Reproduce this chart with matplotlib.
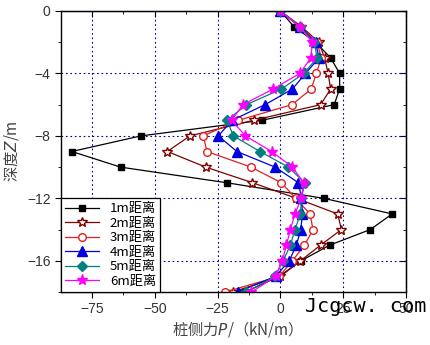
from matplotlib import pyplot as plt
import numpy as np

plt.rcParams['font.family'] = ['Liberation Sans', 'Noto Sans CJK SC', 'DejaVu Sans']

# depth (m)
depth = [0, -1, -2, -3, -4, -5, -6, -7, -8, -9, -10, -11, -12, -13, -14, -15, -16, -17, -18]

# pile side force P (kN/m) for each distance
P_1m = [0, 5.4, 14, 20, 23.6, 23.6, 21.4, -7.3, -55.5, -83, -63.6, -21.4, 17.3, 44.5, 35.8, 19.6, 8.2, -0.5, -14]
P_2m = [0, 8.4, 15.3, 17.6, 19, 20, 16, -10.6, -36, -45, -29.7, -11.1, 6.4, 22.8, 24.3, 16, 8, 0, -19]
P_3m = [0, 7.7, 14.6, 16.3, 14.3, 12.3, 4.6, -16.7, -30.7, -29.2, -11.7, 0.4, 6.1, 11.8, 13, 9.6, 4.8, -0.5, -22]
P_4m = [0, 7.7, 14, 15.4, 10, 4.8, -6.1, -19.2, -24.7, -17.3, -2.1, 7.2, 8.4, 8.8, 8.1, 6.4, 3.5, -1.9, -17]
P_5m = [0, 7.7, 13.5, 14.6, 9.3, 0.4, -13.5, -21.2, -18.7, -8.1, 3.2, 9.7, 8.4, 8, 5.8, 4, 1.1, -2.1, -13.5]
P_6m = [0, 7.7, 12.7, 12.2, 7.7, -2.9, -14.9, -19.4, -13.9, -3.5, 4.8, 9.3, 8.4, 5.8, 4, 2.4, 0.8, -1.9, -11.5]

labels = ['1m距离', '2m距离', '3m距离', '4m距离', '5m距离', '6m距离']

fig = plt.figure(figsize=(4.31, 3.45), dpi=100)
ax = fig.add_axes([61/431, 1-292/345, (406-61)/431, (292-11)/345])

ax.plot(P_1m, depth, '-s', color='black', mfc='black', markersize=5, lw=0.9, label=labels[0])
ax.plot(P_2m, depth, '-*', color='#800000', mfc='white', markersize=7.5, lw=0.9, label=labels[1])
ax.plot(P_3m, depth, '-o', color='#e02020', mfc='white', markersize=5.5, lw=0.9, label=labels[2])
ax.plot(P_4m, depth, '-^', color='#0000e0', mfc='#0000e0', markersize=6.5, lw=0.9, label=labels[3])
ax.plot(P_5m, depth, '-D', color='#008080', mfc='#008080', markersize=5, lw=0.9, label=labels[4])
ax.plot(P_6m, depth, '-*', color='#ff00ff', mfc='#ff00ff', markersize=8, lw=0.9, label=labels[5])

ax.set_xlim(-87.3, 50)
ax.set_ylim(-18, 0)
ax.set_xticks([-75, -50, -25, 0, 25, 50])
ax.set_yticks([0, -4, -8, -12, -16])
ax.set_xticks(np.arange(-75, 50, 12.5), minor=True)
ax.set_yticks(np.arange(-18, 0, 2), minor=True)
ax.grid(True, which='major', color='#0000a0', ls=(0, (1.5, 2.5)), lw=0.8)

ax.tick_params(which='both', direction='out', top=False, right=False, labelsize=10, labelcolor='#333333', length=4)
ax.tick_params(which='minor', length=2.5)
for s in ax.spines.values():
    s.set_linewidth(1.0)

# inward ticks on top and right, like Origin
ax2 = ax.secondary_xaxis('top')
ax2.set_xticks([-75, -50, -25, 0, 25, 50])
ax2.set_xticks(np.arange(-75, 50, 12.5), minor=True)
ax2.tick_params(which='both', direction='in', labeltop=False, length=4)
ax2.tick_params(which='minor', length=2.5)
ax3 = ax.secondary_yaxis('right')
ax3.set_yticks([0, -4, -8, -12, -16])
ax3.set_yticks(np.arange(-18, 0, 2), minor=True)
ax3.tick_params(which='both', direction='in', labelright=False, length=4)
ax3.tick_params(which='minor', length=2.5)

ax.set_xlabel('桩侧力$P$/（kN/m）', fontsize=11, color='#444444',
              family=['Noto Sans CJK SC', 'DejaVu Sans'], labelpad=2)
ax.set_ylabel('深度$Z$/m', fontsize=11, color='#444444',
              family=['Noto Sans CJK SC', 'DejaVu Sans'], labelpad=4)

leg = ax.legend(loc='lower left', bbox_to_anchor=(0, 0), fancybox=False, edgecolor='black',
                framealpha=1, borderaxespad=0, handlelength=2.6, labelspacing=0.12,
                borderpad=0.3, handletextpad=0.8,
                prop={'family': ['Noto Sans CJK SC', 'DejaVu Sans'], 'size': 9.5})
leg.get_frame().set_linewidth(0.9)

fig.text(305/431, 1-307/345, 'Jcgcw. com', fontsize=14.5, color='black',
         family='DejaVu Sans Mono', va='center')

plt.savefig('out.png', dpi=100)
